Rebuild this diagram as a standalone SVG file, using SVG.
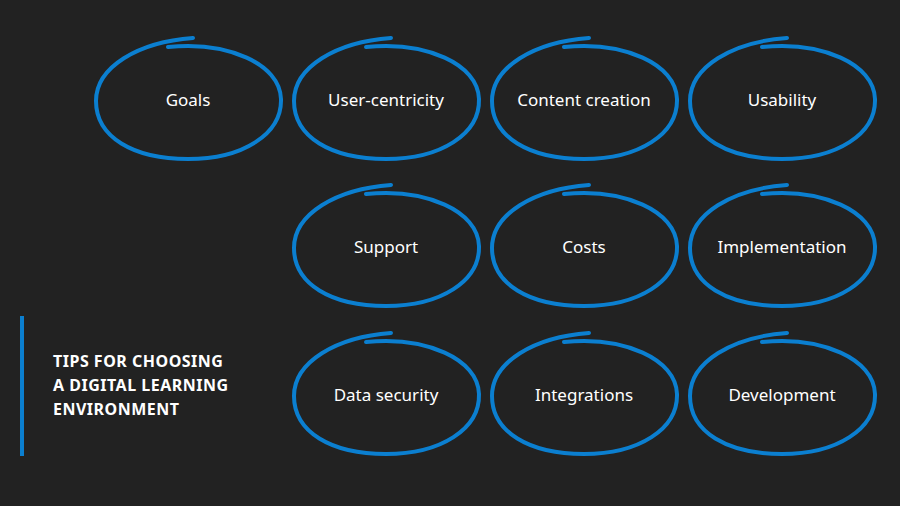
<svg xmlns="http://www.w3.org/2000/svg" xmlns:xlink="http://www.w3.org/1999/xlink" width="900" height="506" viewBox="0 0 900 506">
<style>
.c{fill:none;stroke:#0b7fd0;stroke-width:4;stroke-linecap:round}
.t{font-family:"Noto Sans","Liberation Sans",sans-serif;font-size:17px;fill:#fff;text-anchor:middle;dominant-baseline:central}
.h{font-family:"Noto Sans","Liberation Sans",sans-serif;font-size:16px;font-weight:bold;fill:#fff;letter-spacing:0.5px}
</style>
<defs>
<path id="loop" class="c" d="M -20,-52 C 40,-58 92,-35 93,0 C 94,35 55,60 0,60 C -55,60 -92,38 -92,2 C -92,-32 -50,-57 5,-61"/>
</defs>
<rect width="900" height="506" fill="#222222"/>
<g id="n1"><use href="#loop" x="188" y="99"/><text class="t" x="188" y="99">Goals</text></g>
<g id="n2"><use href="#loop" x="386" y="99"/><text class="t" x="386" y="99">User-centricity</text></g>
<g id="n3"><use href="#loop" x="584" y="99"/><text class="t" x="584" y="99">Content creation</text></g>
<g id="n4"><use href="#loop" x="782" y="99"/><text class="t" x="782" y="99">Usability</text></g>
<g id="n5"><use href="#loop" x="386" y="246"/><text class="t" x="386" y="246">Support</text></g>
<g id="n6"><use href="#loop" x="584" y="246"/><text class="t" x="584" y="246">Costs</text></g>
<g id="n7"><use href="#loop" x="782" y="246"/><text class="t" x="782" y="246">Implementation</text></g>
<g id="n8"><use href="#loop" x="386" y="394"/><text class="t" x="386" y="394">Data security</text></g>
<g id="n9"><use href="#loop" x="584" y="394"/><text class="t" x="584" y="394">Integrations</text></g>
<g id="n10"><use href="#loop" x="782" y="394"/><text class="t" x="782" y="394">Development</text></g>
<g id="title">
<rect x="20" y="316" width="4" height="140" fill="#0b7fd0"/>
<text class="h" x="53" y="367">TIPS FOR CHOOSING</text>
<text class="h" x="53" y="391">A DIGITAL LEARNING</text>
<text class="h" x="53" y="415">ENVIRONMENT</text>
</g>
<g id="connectors"/>
</svg>
